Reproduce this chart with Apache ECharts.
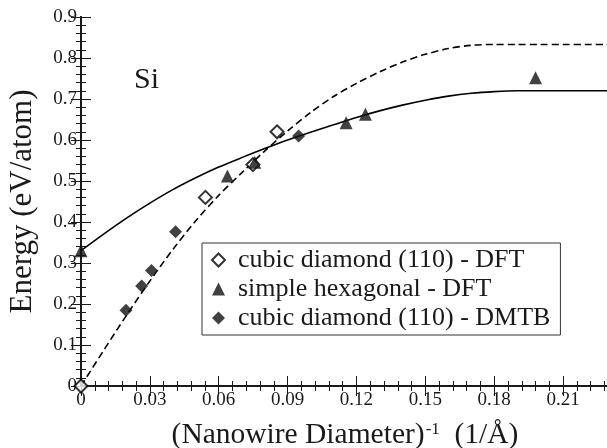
<!DOCTYPE html>
<html>
<head>
<meta charset="utf-8">
<script src="https://cdn.jsdelivr.net/npm/echarts@6/dist/echarts.min.js"></script>
<style>html,body{margin:0;padding:0;background:#fff;}#c{width:607px;height:448px;}</style>
</head>
<body>
<div id="c"></div>
<script>
// ---- data ----
const xTickLabels = ['0', '0.03', '0.06', '0.09', '0.12', '0.15', '0.18', '0.21'];
const yTickLabels = ['0', '0.1', '0.2', '0.3', '0.4', '0.5', '0.6', '0.7', '0.8', '0.9'];

const cdDftX = [0, 0.0542, 0.0749, 0.0854];
const cdDftY = [0, 0.46, 0.54, 0.62];

const shDftX = [0, 0.0638, 0.0757, 0.1155, 0.1239, 0.198];
const shDftY = [0.33, 0.512, 0.546, 0.642, 0.663, 0.752];

const cdDmtbX = [0.0196, 0.0264, 0.0307, 0.0412, 0.0948];
const cdDmtbY = [0.185, 0.244, 0.282, 0.376, 0.61];

// fitted curves
const solidX = [0, 0.01, 0.02, 0.03, 0.04, 0.05, 0.06, 0.07, 0.08, 0.09, 0.10, 0.11, 0.12, 0.13, 0.14, 0.15, 0.16, 0.17, 0.18, 0.19, 0.20, 0.21, 0.22, 0.23];
const solidY = [0.33, 0.371, 0.41, 0.446, 0.479, 0.508, 0.534, 0.557, 0.579, 0.6, 0.619, 0.637, 0.655, 0.671, 0.685, 0.697, 0.707, 0.714, 0.718, 0.72, 0.72, 0.72, 0.72, 0.72];

const dashX = [0, 0.01, 0.02, 0.03, 0.04, 0.05, 0.06, 0.07, 0.08, 0.09, 0.10, 0.11, 0.12, 0.13, 0.14, 0.15, 0.16, 0.17, 0.18, 0.19, 0.20, 0.21, 0.22, 0.23];
const dashY = [0, 0.088, 0.174, 0.256, 0.333, 0.403, 0.465, 0.52, 0.573, 0.622, 0.667, 0.706, 0.738, 0.766, 0.79, 0.809, 0.823, 0.831, 0.833, 0.833, 0.833, 0.833, 0.833, 0.833];

const seriesNames = ['cubic diamond (110) - DFT', 'simple hexagonal - DFT', 'cubic diamond (110) - DMTB'];
const panelLabel = 'Si';

// ---- chart ----
const zip = (xs, ys) => xs.map((x, i) => [x, ys[i]]);
const FONT = '"Liberation Serif", "DejaVu Serif", serif';
const INK = '#1a1a1a';

const chart = echarts.init(document.getElementById('c'), null, {renderer: 'canvas'});

const tickCommon = {
  axisLine: {show: true, lineStyle: {color: INK, width: 2}},
  axisTick: {show: true, inside: true, length: 10, lineStyle: {color: INK, width: 1}},
  minorTick: {show: true, splitNumber: 5, length: 5, lineStyle: {color: INK, width: 1}},
  splitLine: {show: false},
  minorSplitLine: {show: false}
};

const xBase = Object.assign({type: 'value', min: 0, max: 0.23, interval: 0.03}, tickCommon);
const yBase = Object.assign({type: 'value', min: 0, max: 0.9, interval: 0.1}, tickCommon);

chart.setOption({
  animation: false,
  backgroundColor: '#fff',
  textStyle: {fontFamily: FONT, color: INK},
  grid: {left: 81, top: 17, width: 528, height: 369, outerBoundsMode: 'none'},
  xAxis: [
    Object.assign({}, xBase, {
      position: 'bottom',
      axisLabel: {
        show: true, margin: 5, fontSize: 19, color: INK, fontFamily: FONT,
        formatter: v => xTickLabels[Math.round(v / 0.03)] || ''
      },
      name: '{m|(Nanowire Diameter)}{s|-1}{m|  (1/Å)}',
      nameLocation: 'middle',
      nameGap: 35,
      nameTextStyle: {
        fontFamily: FONT, color: INK,
        rich: {
          m: {fontSize: 29.5, fontFamily: FONT, color: INK, lineHeight: 29, verticalAlign: 'bottom'},
          s: {fontSize: 17, fontFamily: FONT, color: INK, lineHeight: 17, verticalAlign: 'top', padding: [0, 0, 20, 1]}
        }
      }
    }),
    Object.assign({}, xBase, {position: 'top', axisLabel: {show: false}})
  ],
  yAxis: [
    Object.assign({}, yBase, {
      position: 'left',
      axisLabel: {
        show: true, margin: 4, fontSize: 19, color: INK, fontFamily: FONT,
        formatter: v => yTickLabels[Math.round(v / 0.1)] || ''
      },
      name: 'Energy (eV/atom)',
      nameLocation: 'middle',
      nameRotate: 90,
      nameGap: 43,
      nameTextStyle: {fontSize: 31, fontFamily: FONT, color: INK}
    }),
    Object.assign({}, yBase, {position: 'right', axisLabel: {show: false}})
  ],
  legend: {
    orient: 'vertical',
    left: 202, top: 243,
    padding: [4, 10, 4, 9],
    itemWidth: 13, itemHeight: 13, itemGap: 3,
    borderColor: '#333', borderWidth: 1, backgroundColor: '#fff',
    textStyle: {fontSize: 26, lineHeight: 26, fontFamily: FONT, color: INK, padding: [0, 0, 0, 8]},
    data: [
      {name: seriesNames[0], icon: 'emptyDiamond'},
      {name: seriesNames[1], icon: 'triangle'},
      {name: seriesNames[2], icon: 'diamond'}
    ]
  },
  graphic: [{
    type: 'text', left: 134, top: 65,
    style: {text: panelLabel, fontSize: 30, fontFamily: FONT, fill: INK}
  }],
  series: [
    {
      type: 'line', name: 'fit-solid', data: zip(solidX, solidY), smooth: 0.3,
      showSymbol: false, symbol: 'none', lineStyle: {color: '#000', width: 1.6}, z: 2, silent: true
    },
    {
      type: 'line', name: 'fit-dashed', data: zip(dashX, dashY), smooth: 0.3,
      showSymbol: false, symbol: 'none', lineStyle: {color: '#000', width: 1.6, type: [7, 4]}, z: 2, silent: true
    },
    {
      type: 'scatter', name: seriesNames[0], data: zip(cdDftX, cdDftY), symbol: 'emptyDiamond', symbolSize: 13,
      itemStyle: {color: '#000', borderColor: '#000', borderWidth: 1.6}, clip: false, z: 4
    },
    {
      type: 'scatter', name: seriesNames[1], data: zip(shDftX, shDftY), symbol: 'triangle', symbolSize: 13,
      itemStyle: {color: '#111'}, clip: false, z: 4
    },
    {
      type: 'scatter', name: seriesNames[2], data: zip(cdDmtbX, cdDmtbY), symbol: 'diamond', symbolSize: 13,
      itemStyle: {color: '#111'}, clip: false, z: 4
    }
  ]
});
</script>
</body>
</html>
